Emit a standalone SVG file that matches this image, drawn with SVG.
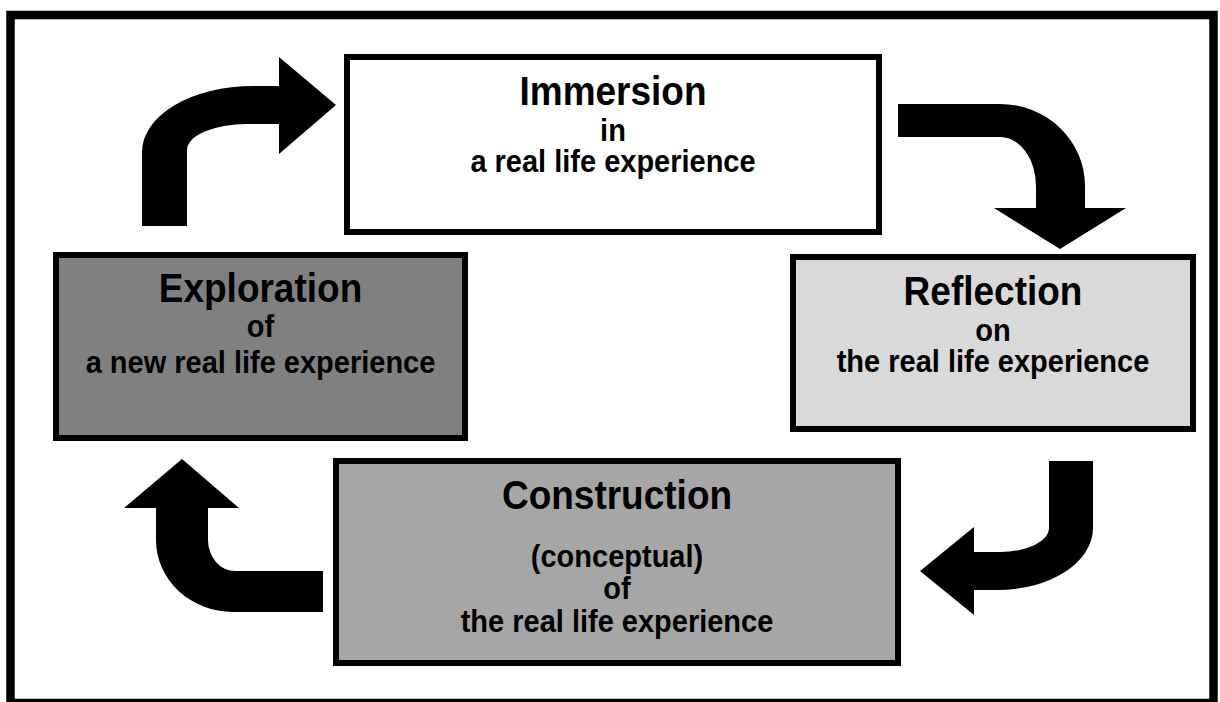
<svg xmlns="http://www.w3.org/2000/svg" width="1220" height="702" viewBox="0 0 1220 702">
<style>
.box{stroke:#000;stroke-width:6}
.t{font-family:"Liberation Sans",Arial,sans-serif;font-weight:bold;fill:#000;text-anchor:middle}
.h{font-size:37px}
.s{font-size:29px}
.arr{fill:#000}
</style>
<rect x="0" y="0" width="1220" height="702" fill="#fff"/>
<rect x="10.5" y="15" width="1203" height="688" fill="#fff" stroke="#000" stroke-width="8.5"/>
<g id="connectors">
<path class="arr" d="M142,226 L142,152 A111,66 0 0 1 253,86 L279,86 L279,57 L336,105 L279,154 L279,124 L247,124 A60,26 0 0 0 187,150 L187,226 Z"/>
<path class="arr" d="M898,104 L1000,104 A85,82 0 0 1 1085,186 L1085,208 L1126,208 L1060,249 L994,208 L1036,208 L1036,186 A36,49 0 0 0 1000,137 L898,137 Z"/>
<path class="arr" d="M1049,461 L1093,461 L1093,528 A95,62 0 0 1 998,590 L974,590 L974,615 L920,571 L974,527 L974,552 L1000,552 A49,24 0 0 0 1049,528 Z"/>
<path class="arr" d="M323,571 L323,612 L233,612 A77,72 0 0 1 156,540 L156,508 L124,508 L182,459 L239,508 L208,508 L208,540 A27,31 0 0 0 235,571 Z"/>
</g>
<g id="immersion">
<rect class="box" x="347" y="57" width="532" height="175" fill="#fff"/>
<text class="t h" transform="matrix(1 0 0 1.08 613 104.5)">Immersion</text>
<text class="t s" transform="matrix(1 0 0 1.08 613 140.5)">in</text>
<text class="t s" transform="matrix(1 0 0 1.08 613 171.5)">a real life experience</text>
</g>
<g id="reflection">
<rect class="box" x="793" y="257" width="400" height="172" fill="#d9d9d9"/>
<text class="t h" transform="matrix(1 0 0 1.08 993 304.5)">Reflection</text>
<text class="t s" transform="matrix(1 0 0 1.08 993 340.5)">on</text>
<text class="t s" transform="matrix(1 0 0 1.08 993 372)">the real life experience</text>
</g>
<g id="exploration">
<rect class="box" x="56" y="255" width="409" height="183" fill="#808080"/>
<text class="t h" transform="matrix(1 0 0 1.08 260.5 301.5)">Exploration</text>
<text class="t s" transform="matrix(1 0 0 1.08 260.5 336.5)">of</text>
<text class="t s" transform="matrix(1 0 0 1.08 260.5 372.5)">a new real life experience</text>
</g>
<g id="construction">
<rect class="box" x="336" y="461" width="562" height="202" fill="#a6a6a6"/>
<text class="t h" transform="matrix(1 0 0 1.08 617 508.5)">Construction</text>
<text class="t s" transform="matrix(1 0 0 1.08 617 566.5)">(conceptual)</text>
<text class="t s" transform="matrix(1 0 0 1.08 617 599)">of</text>
<text class="t s" transform="matrix(1 0 0 1.08 617 632)">the real life experience</text>
</g>
</svg>
